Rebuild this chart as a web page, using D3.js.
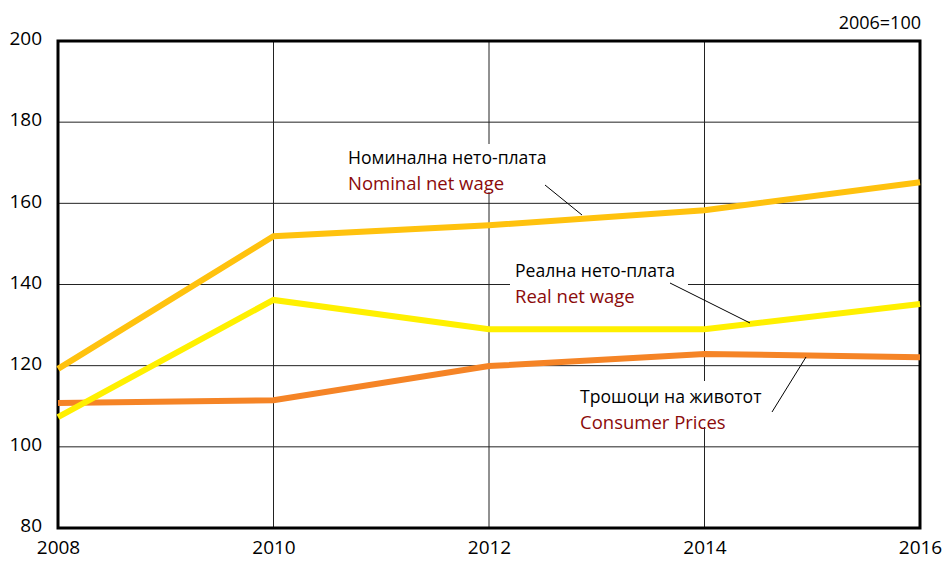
<!DOCTYPE html>
<html>
<head>
<meta charset="utf-8">
<script src="https://cdn.jsdelivr.net/npm/d3@7"></script>
<style>
  body { margin: 0; background: #fff; }
  text { font-family: "Open Sans", "Liberation Sans", sans-serif; }
</style>
</head>
<body>
<div id="chart"></div>
<script>
let w = 944;
let h = 563;

// data
let years = [2008, 2010, 2012, 2014, 2016];
let nominalWage = [119.2, 151.9, 154.6, 158.3, 165.2];
let realWage = [107.3, 136.2, 129.0, 129.0, 135.2];
let consumerPrices = [110.8, 111.5, 119.9, 122.9, 122.1];
let yTicks = [80, 100, 120, 140, 160, 180, 200];

let padLeft = 58, padRight = 920, padTop = 41, padBottom = 528;

let viz = d3.select("#chart")
  .append("svg")
  .attr("width", w)
  .attr("height", h)
  .style("background-color", "white");

let xScale = d3.scaleLinear().domain([2008, 2016]).range([padLeft, padRight]);
let yScale = d3.scaleLinear().domain([80, 200]).range([padBottom, padTop]);

// gridlines
viz.append("g").selectAll("line").data(yTicks.slice(1, -1)).enter()
  .append("line")
  .attr("x1", padLeft).attr("x2", padRight)
  .attr("y1", d => yScale(d)).attr("y2", d => yScale(d))
  .attr("stroke", "#222").attr("stroke-width", 1);

viz.append("g").selectAll("line").data(years.slice(1, -1)).enter()
  .append("line")
  .attr("x1", d => xScale(d)).attr("x2", d => xScale(d))
  .attr("y1", padTop).attr("y2", padBottom)
  .attr("stroke", "#222").attr("stroke-width", 1);

// axes
let yAxis = d3.axisLeft(yScale).tickValues(yTicks).tickSize(0).tickPadding(16);
viz.append("g")
  .attr("transform", "translate(" + padLeft + ",0)")
  .call(yAxis)
  .call(g => g.select(".domain").remove())
  .selectAll("text")
  .attr("font-size", 19)
  .attr("fill", "#000")
  .style("font-family", "'Open Sans', sans-serif")
  .attr("dy", "0.2em");

let xAxis = d3.axisBottom(xScale).tickValues(years).tickFormat(d3.format("d")).tickSize(0).tickPadding(13);
viz.append("g")
  .attr("transform", "translate(0," + padBottom + ")")
  .call(xAxis)
  .call(g => g.select(".domain").remove())
  .selectAll("text")
  .attr("font-size", 19)
  .attr("fill", "#000")
  .style("font-family", "'Open Sans', sans-serif");

// frame
viz.append("rect")
  .attr("x", padLeft).attr("y", padTop)
  .attr("width", padRight - padLeft).attr("height", padBottom - padTop)
  .attr("fill", "none")
  .attr("stroke", "#000")
  .attr("stroke-width", 3);

// white boxes behind labels
let boxes = [
  [345, 144, 170, 48],
  [510, 262, 178, 23],
  [578, 381, 180, 46]
];
viz.append("g").selectAll("rect").data(boxes).enter()
  .append("rect")
  .attr("x", d => d[0]).attr("y", d => d[1])
  .attr("width", d => d[2]).attr("height", d => d[3])
  .attr("fill", "white");

// lines
let line = d3.line()
  .x((d, i) => xScale(years[i]))
  .y(d => yScale(d));

let series = [
  { values: consumerPrices, color: "#F58426" },
  { values: realWage, color: "#FFF000" },
  { values: nominalWage, color: "#FFC20E" }
];

viz.selectAll(".series").data(series).enter()
  .append("path")
  .attr("class", "series")
  .attr("d", d => line(d.values))
  .attr("fill", "none")
  .attr("stroke", d => d.color)
  .attr("stroke-width", 6);

// leader lines
let leaders = [
  [545, 185, 582, 215],
  [670, 283, 750, 323],
  [806, 357, 772, 412]
];
viz.append("g").selectAll("line").data(leaders).enter()
  .append("line")
  .attr("x1", d => d[0]).attr("y1", d => d[1])
  .attr("x2", d => d[2]).attr("y2", d => d[3])
  .attr("stroke", "#000").attr("stroke-width", 1);

// labels
let labels = [
  { x: 348, y: 164, mk: "Номинална нето-плата", en: "Nominal net wage" },
  { x: 515, y: 277, mk: "Реална нето-плата", en: "Real net wage" },
  { x: 580, y: 403, mk: "Трошоци на животот", en: "Consumer Prices" }
];
labels.forEach(l => {
  viz.append("text").attr("x", l.x).attr("y", l.y)
    .attr("font-size", 17.6).attr("fill", "#000").text(l.mk);
  viz.append("text").attr("x", l.x).attr("y", l.y + 26)
    .attr("font-size", 18.5).attr("fill", "#8B0A0A").text(l.en);
});

viz.append("text")
  .attr("x", 921).attr("y", 29)
  .attr("text-anchor", "end")
  .attr("font-size", 18)
  .text("2006=100");
</script>
</body>
</html>
